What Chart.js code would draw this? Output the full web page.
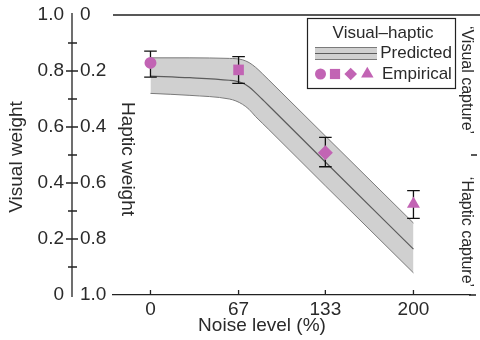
<!DOCTYPE html>
<html><head><meta charset="utf-8">
<script src="https://cdn.jsdelivr.net/npm/chart.js@4/dist/chart.umd.min.js"></script>
<style>html,body{margin:0;padding:0;background:#fff}#wrap{width:480px;height:340px;position:relative}</style>
</head><body><div id="wrap"><canvas id="c" width="480" height="340"></canvas></div>
<script>
// ---- data ----
const xTicks = [0, 67, 133, 200];
const xTitle = 'Noise level (%)';
const visualTickValues = [0, 0.2, 0.4, 0.6, 0.8, 1.0];
const visualTickLabels = ['0', '0.2', '0.4', '0.6', '0.8', '1.0'];
const hapticTickLabels = ['1.0', '0.8', '0.6', '0.4', '0.2', '0'];
const minorTickValues = [0.1, 0.3, 0.5, 0.7, 0.9];

const predNoise = [0, 30, 60, 65, 70, 75, 80, 85, 90, 133, 200];
const predUpper = [0.847, 0.847, 0.845, 0.844, 0.840, 0.830, 0.813, 0.791, 0.768, 0.568, 0.257];
const predMean  = [0.782, 0.776, 0.767, 0.764, 0.757, 0.743, 0.722, 0.699, 0.676, 0.475, 0.164];
const predLower = [0.720, 0.713, 0.700, 0.693, 0.681, 0.663, 0.637, 0.614, 0.591, 0.390, 0.079];

const empNoise  = [0, 67, 133, 200];
const empWeight = [0.829, 0.804, 0.508, 0.325];
const empLow    = [0.778, 0.756, 0.458, 0.274];
const empHigh   = [0.871, 0.851, 0.563, 0.373];
const empStyles = ['circle', 'rect', 'rectRot', 'triangle'];

// ---- styles ----
const FONT = '"Liberation Sans", Arial, Helvetica, sans-serif';
const TXT = '#2a2a2a';
const AX = '#222';
const PURPLE = '#c264b4';
const BAND = '#d0d0d0';
const EDGE = '#7a7a7a';
const MEAN = '#5c5c5c';

const pts = (xs, ys) => xs.map((x, i) => ({x: x, y: ys[i]}));

const custom = {
  id: 'custom',
  beforeDatasetDraw(chart, args) {
    if (args.index !== 0) return;
    const {ctx, scales: {x, y}} = chart;
    ctx.save();
    ctx.strokeStyle = '#111'; ctx.lineWidth = 1.3;
    empNoise.forEach((n, i) => {
      const px = x.getPixelForValue(n);
      const lo = y.getPixelForValue(empLow[i]);
      const hi = y.getPixelForValue(empHigh[i]);
      ctx.beginPath();
      ctx.moveTo(px, lo); ctx.lineTo(px, hi);
      ctx.moveTo(px - 6.3, lo); ctx.lineTo(px + 6.3, lo);
      ctx.moveTo(px - 6.3, hi); ctx.lineTo(px + 6.3, hi);
      ctx.stroke();
    });
    ctx.restore();
  },
  afterDraw(chart) {
    const {ctx, scales: {x, y}, chartArea} = chart;
    ctx.save();
    // left dual axis
    const ax = 72;
    ctx.strokeStyle = AX; ctx.lineWidth = 1.3;
    ctx.beginPath();
    ctx.moveTo(ax, y.getPixelForValue(1) - 2);
    ctx.lineTo(ax, y.getPixelForValue(0) + 2);
    visualTickValues.forEach(v => {
      if (v === 0 || v === 1) return;
      const py = y.getPixelForValue(v);
      ctx.moveTo(ax - 6, py); ctx.lineTo(ax + 6, py);
    });
    minorTickValues.forEach(v => {
      const py = y.getPixelForValue(v);
      ctx.moveTo(ax - 4, py); ctx.lineTo(ax + 5, py);
    });
    // top line
    ctx.moveTo(chartArea.left, y.getPixelForValue(1));
    ctx.lineTo(480, y.getPixelForValue(1));
    // bottom extension
    ctx.moveTo(chartArea.right - 1, chartArea.bottom);
    ctx.lineTo(476, chartArea.bottom);
    // x ticks pointing up
    xTicks.forEach(v => {
      const px = x.getPixelForValue(v);
      ctx.moveTo(px, chartArea.bottom - 5); ctx.lineTo(px, chartArea.bottom);
    });
    // right separator tick
    ctx.moveTo(471, y.getPixelForValue(0.5)); ctx.lineTo(477, y.getPixelForValue(0.5));
    ctx.stroke();

    ctx.fillStyle = TXT;
    ctx.font = '19px ' + FONT;
    ctx.textBaseline = 'middle';
    visualTickValues.forEach((v, i) => {
      const py = y.getPixelForValue(v);
      ctx.textAlign = 'right';
      ctx.fillText(visualTickLabels[i], 64, py);
      ctx.textAlign = 'left';
      ctx.fillText(hapticTickLabels[i], 80, py);
    });
    // axis titles
    ctx.textAlign = 'center';
    ctx.fillText(xTitle, 262, 326);
    ctx.save(); ctx.translate(17, 157); ctx.rotate(-Math.PI / 2);
    ctx.fillText('Visual weight', 0, 0); ctx.restore();
    ctx.save(); ctx.translate(127, 159); ctx.rotate(Math.PI / 2);
    ctx.fillText('Haptic weight', 0, 0); ctx.restore();
    // right labels
    ctx.font = '16px ' + FONT;
    ctx.save(); ctx.translate(466, 80); ctx.rotate(Math.PI / 2);
    ctx.fillText('\u2018Visual capture\u2019', 0, 0); ctx.restore();
    ctx.save(); ctx.translate(466, 232); ctx.rotate(Math.PI / 2);
    ctx.fillText('\u2018Haptic capture\u2019', 0, 0); ctx.restore();

    // legend
    ctx.fillStyle = '#fff';
    ctx.fillRect(307.5, 18.5, 148, 70);
    ctx.strokeStyle = AX; ctx.lineWidth = 1.2;
    ctx.strokeRect(307.5, 18.5, 148, 70);
    ctx.fillStyle = TXT;
    ctx.font = '17px ' + FONT;
    ctx.textAlign = 'center';
    ctx.fillText('Visual\u2013haptic', 383, 33);
    ctx.textAlign = 'right';
    ctx.fillText('Predicted', 452, 53);
    ctx.textAlign = 'left';
    ctx.fillText('Empirical', 382, 74);
    // predicted swatch
    ctx.fillStyle = BAND;
    ctx.fillRect(315, 47, 62, 13);
    ctx.strokeStyle = EDGE; ctx.lineWidth = 1;
    ctx.beginPath();
    ctx.moveTo(315, 47.5); ctx.lineTo(377, 47.5);
    ctx.moveTo(315, 59.5); ctx.lineTo(377, 59.5);
    ctx.stroke();
    ctx.strokeStyle = MEAN;
    ctx.beginPath(); ctx.moveTo(315, 53.5); ctx.lineTo(377, 53.5); ctx.stroke();
    // empirical markers
    ctx.fillStyle = PURPLE;
    const lx = [320.5, 335, 350.7, 367.3];
    const lr = [5.5, 7.2, 6.3, 7.2];
    empStyles.forEach((s, i) => {
      Chart.helpers.drawPoint(ctx, {pointStyle: s, radius: lr[i], rotation: 0, borderWidth: 0}, lx[i], 74);
    });
    ctx.restore();
  }
};

new Chart(document.getElementById('c').getContext('2d'), {
  type: 'line',
  data: {
    datasets: [
      {
        label: 'Empirical', data: pts(empNoise, empWeight), order: 0,
        showLine: false, pointStyle: empStyles, pointRadius: [6, 7.5, 7.5, 7.5],
        pointBackgroundColor: PURPLE, pointBorderWidth: 0, pointBorderColor: PURPLE
      },
      {
        label: 'Predicted mean', data: pts(predNoise, predMean), order: 1,
        borderColor: MEAN, borderWidth: 1.2, pointRadius: 0, fill: false,
        cubicInterpolationMode: 'monotone'
      },
      {
        label: 'Predicted upper', data: pts(predNoise, predUpper), order: 2,
        borderColor: EDGE, borderWidth: 1, pointRadius: 0, backgroundColor: BAND,
        fill: '+1', cubicInterpolationMode: 'monotone'
      },
      {
        label: 'Predicted lower', data: pts(predNoise, predLower), order: 3,
        borderColor: EDGE, borderWidth: 1, pointRadius: 0, fill: false,
        cubicInterpolationMode: 'monotone'
      }
    ]
  },
  options: {
    responsive: false, animation: false, devicePixelRatio: 1,
    layout: {padding: {left: 113, right: 10, top: 15, bottom: 0}},
    plugins: {
      legend: {display: false}, tooltip: {enabled: false},
      filler: {drawTime: 'beforeDatasetsDraw'}
    },
    scales: {
      x: {
        type: 'linear', min: -28.5, max: 243,
        afterBuildTicks: s => { s.ticks = xTicks.map(v => ({value: v})); },
        afterFit: s => { s.height = 45; },
        ticks: {font: {family: FONT, size: 19, lineHeight: 1.2}, color: TXT, padding: 3,
                autoSkip: false, maxRotation: 0, callback: v => String(v)},
        grid: {display: true, drawOnChartArea: false, drawTicks: false},
        border: {display: true, color: AX, width: 1.3},
        title: {display: false}
      },
      y: {type: 'linear', min: 0, max: 1, display: false}
    }
  },
  plugins: [custom]
});
</script>
</body></html>
